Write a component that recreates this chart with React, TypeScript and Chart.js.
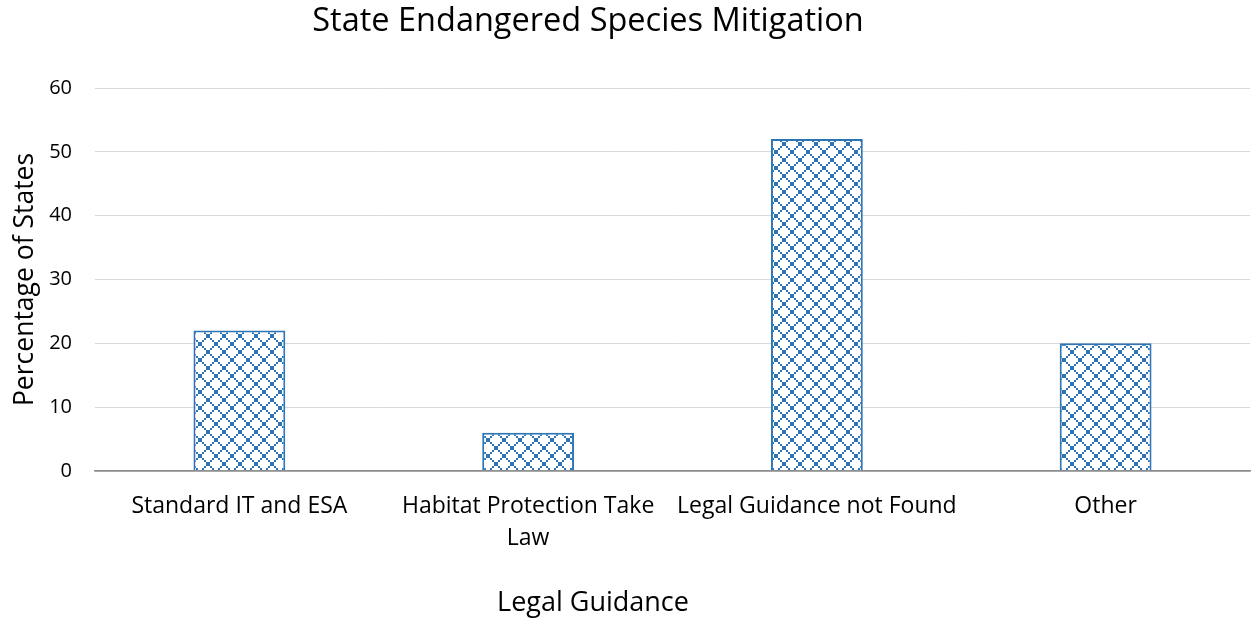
import React, { useEffect, useRef } from "react";
import { Chart, registerables } from "chart.js";

Chart.register(...registerables);

const chartTitle = "State Endangered Species Mitigation";
const xAxisTitle = "Legal Guidance";
const yAxisTitle = "Percentage of States";
const categories: (string | string[])[] = [
  "Standard IT and ESA",
  ["Habitat Protection Take", "Law"],
  "Legal Guidance not Found",
  "Other",
];
const percentages = [22, 6, 52, 20];
const yTicks = [0, 10, 20, 30, 40, 50, 60];

const FONT = "'Open Sans', Lato, sans-serif";
const BLUE = "#2e75b6";

// 16x16 outlined-diamond hatch (2px cells) used as the bar fill
function makeDiamondPattern(ctx: CanvasRenderingContext2D): CanvasPattern | string {
  const tile = document.createElement("canvas");
  tile.width = 16;
  tile.height = 16;
  const t = tile.getContext("2d");
  if (!t) return BLUE;
  t.fillStyle = "#ffffff";
  t.fillRect(0, 0, 16, 16);
  t.fillStyle = BLUE;
  for (let i = 0; i < 8; i++) {
    t.fillRect(i * 2, i * 2, 2, 2);
    t.fillRect((7 - i) * 2, i * 2, 2, 2);
  }
  return ctx.createPattern(tile, "repeat") || BLUE;
}

// Chart heading and x-axis caption drawn at fixed spots on the canvas
const captionPlugin = {
  id: "captions",
  afterDraw(chart: Chart) {
    const ctx = chart.ctx;
    ctx.save();
    ctx.fillStyle = "#000000";
    ctx.textAlign = "center";
    ctx.textBaseline = "middle";
    ctx.font = `32.5px ${FONT}`;
    ctx.fillText(chartTitle, 588, 22);
    ctx.font = `27px ${FONT}`;
    ctx.fillText(xAxisTitle, 593, 603);
    ctx.restore();
  },
};

export default function App() {
  const canvasRef = useRef<HTMLCanvasElement | null>(null);

  useEffect(() => {
    document.body.style.margin = "0";
    const canvas = canvasRef.current;
    if (!canvas) return;
    const ctx = canvas.getContext("2d");
    if (!ctx) return;
    const pattern = makeDiamondPattern(ctx);

    const chart = new Chart(ctx, {
      type: "bar",
      data: {
        labels: categories,
        datasets: [
          {
            data: percentages,
            backgroundColor: pattern as any,
            borderColor: BLUE,
            borderWidth: 2,
            categoryPercentage: 1,
            barPercentage: 0.318,
          },
        ],
      },
      options: {
        responsive: false,
        animation: false,
        layout: { padding: { top: 88, right: 4, left: 0, bottom: 0 } },
        plugins: {
          legend: { display: false },
          title: { display: false },
          tooltip: { enabled: false },
        },
        scales: {
          x: {
            grid: { display: false },
            border: { display: true, color: "#8c8c8c", width: 1.5 },
            ticks: {
              color: "#000000",
              font: { family: FONT, size: 23, lineHeight: 1.4 },
              padding: 11,
              maxRotation: 0,
              autoSkip: false,
            },
            afterFit: (scale: any) => {
              scale.height = 148;
            },
          },
          y: {
            min: 0,
            max: 60,
            afterBuildTicks: (scale: any) => {
              scale.ticks = yTicks.map((v) => ({ value: v }));
            },
            grid: {
              drawTicks: false,
              color: (c: any) => (c.tick && c.tick.value === 0 ? "#8c8c8c" : "#d9d9d9"),
              lineWidth: (c: any) => (c.tick && c.tick.value === 0 ? 1.5 : 1),
            },
            border: { display: false },
            ticks: {
              color: "#000000",
              font: { family: FONT, size: 20 },
              padding: 23,
            },
            title: {
              display: true,
              text: yAxisTitle,
              color: "#000000",
              font: { family: FONT, size: 26.5 },
              padding: { top: 10, bottom: 0 },
            },
            afterFit: (scale: any) => {
              scale.width = 95;
            },
          },
        },
      },
      plugins: [captionPlugin],
    });

    return () => chart.destroy();
  }, []);

  return (
    <div style={{ width: 1254, height: 619, background: "#ffffff" }}>
      <canvas ref={canvasRef} width={1254} height={619} />
    </div>
  );
}
